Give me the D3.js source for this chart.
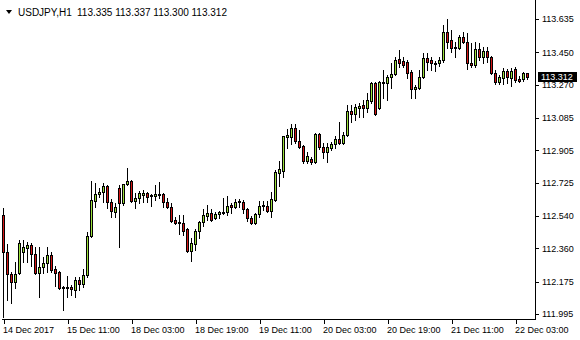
<!DOCTYPE html>
<html>
<head>
<meta charset="utf-8">
<script src="https://cdn.jsdelivr.net/npm/d3@7"></script>
<style>
  body { margin: 0; background: #fff; }
  svg { display: block; font-family: "Liberation Sans", Arial, sans-serif; }
</style>
</head>
<body>
<div id="chart"></div>
<script>
// USDJPY H1 bars (oldest first)
var opens = [112.545,112.340,112.217,112.173,112.223,112.340,112.362,112.379,112.329,112.223,
  112.256,112.279,112.323,112.245,112.229,112.145,112.140,112.145,112.128,112.184,
  112.162,112.212,112.429,112.623,112.662,112.673,112.707,112.618,112.562,112.696,
  112.612,112.718,112.734,112.623,112.640,112.657,112.668,112.657,112.651,112.657,
  112.662,112.618,112.590,112.518,112.506,112.501,112.468,112.345,112.384,112.456,
  112.506,112.540,112.556,112.529,112.551,112.556,112.562,112.601,112.590,112.618,
  112.618,112.579,112.529,112.501,112.551,112.595,112.595,112.568,112.629,112.779,
  112.790,112.979,112.979,113.029,112.957,112.929,112.846,112.857,112.840,112.996,
  112.923,112.896,112.918,112.940,112.968,112.946,112.990,113.124,113.107,113.140,
  113.157,113.140,113.179,113.279,113.140,113.279,113.279,113.312,113.329,113.413,
  113.401,113.396,113.340,113.246,113.251,113.312,113.418,113.407,113.390,113.390,
  113.407,113.563,113.518,113.474,113.474,113.535,113.507,113.390,113.379,113.468,
  113.424,113.457,113.424,113.335,113.285,113.307,113.346,113.307,113.357,113.301,
  113.301,113.335];
var highs = [112.584,112.384,112.229,112.284,112.406,112.406,112.395,112.390,112.368,112.368,
  112.312,112.368,112.340,112.262,112.234,112.151,112.206,112.156,112.201,112.201,
  112.245,112.451,112.734,112.723,112.696,112.723,112.712,112.634,112.612,112.712,
  112.718,112.807,112.740,112.668,112.679,112.684,112.673,112.662,112.712,112.729,
  112.668,112.640,112.612,112.534,112.545,112.545,112.473,112.418,112.468,112.512,
  112.579,112.601,112.579,112.562,112.568,112.640,112.651,112.612,112.634,112.634,
  112.629,112.584,112.540,112.556,112.623,112.623,112.623,112.673,112.796,112.846,
  112.985,113.024,113.051,113.051,113.018,112.935,112.896,112.868,113.001,113.001,
  112.946,112.946,112.951,112.985,113.062,113.007,113.157,113.157,113.162,113.168,
  113.185,113.224,113.285,113.285,113.290,113.351,113.324,113.390,113.424,113.463,
  113.424,113.407,113.351,113.268,113.351,113.446,113.446,113.424,113.401,113.424,
  113.602,113.635,113.574,113.507,113.546,113.563,113.557,113.502,113.507,113.502,
  113.479,113.479,113.429,113.351,113.324,113.363,113.357,113.363,113.368,113.318,
  113.340,113.337];
var lows = [111.978,112.073,112.056,112.140,112.217,112.284,112.284,112.262,112.217,112.090,
  112.223,112.229,112.229,112.151,112.134,112.017,112.090,112.101,112.090,112.128,
  112.145,112.201,112.423,112.590,112.646,112.618,112.584,112.534,112.534,112.368,
  112.601,112.712,112.618,112.584,112.612,112.618,112.618,112.595,112.629,112.640,
  112.590,112.584,112.506,112.495,112.440,112.434,112.340,112.290,112.351,112.418,
  112.484,112.518,112.512,112.523,112.529,112.551,112.545,112.556,112.584,112.590,
  112.556,112.512,112.495,112.495,112.534,112.573,112.562,112.534,112.623,112.707,
  112.757,112.918,112.940,112.946,112.918,112.834,112.834,112.829,112.834,112.912,
  112.862,112.840,112.907,112.918,112.940,112.940,112.985,113.062,113.074,113.090,
  113.090,113.118,113.168,113.101,113.135,113.196,113.185,113.251,113.324,113.368,
  113.368,113.307,113.196,113.196,113.246,113.307,113.351,113.351,113.346,113.374,
  113.396,113.474,113.452,113.424,113.468,113.502,113.357,113.368,113.368,113.407,
  113.390,113.396,113.329,113.274,113.274,113.274,113.279,113.263,113.285,113.285,
  113.290,113.300];
var closes = [112.340,112.217,112.173,112.217,112.390,112.368,112.379,112.329,112.223,112.256,
  112.279,112.323,112.240,112.223,112.140,112.140,112.145,112.134,112.184,112.162,
  112.212,112.429,112.629,112.662,112.673,112.707,112.618,112.568,112.590,112.612,
  112.718,112.734,112.623,112.640,112.668,112.668,112.646,112.651,112.662,112.662,
  112.618,112.590,112.512,112.501,112.501,112.456,112.345,112.390,112.456,112.506,
  112.545,112.556,112.518,112.551,112.562,112.562,112.595,112.590,112.618,112.623,
  112.579,112.529,112.501,112.551,112.595,112.601,112.568,112.634,112.784,112.801,
  112.985,112.990,113.029,112.957,112.923,112.846,112.873,112.840,112.996,112.923,
  112.896,112.923,112.940,112.968,112.946,112.990,113.124,113.107,113.146,113.151,
  113.140,113.185,113.279,113.107,113.285,113.285,113.312,113.329,113.407,113.390,
  113.379,113.335,113.246,113.257,113.312,113.418,113.396,113.390,113.385,113.407,
  113.563,113.507,113.474,113.479,113.535,113.507,113.390,113.379,113.468,113.424,
  113.457,113.424,113.335,113.285,113.312,113.346,113.312,113.346,113.296,113.290,
  113.335,113.312];

// time axis labels and the bar each one sits on (every 16 bars)
var timeLabels = ["14 Dec 2017","15 Dec 11:00","18 Dec 03:00","18 Dec 19:00","19 Dec 11:00",
  "20 Dec 03:00","20 Dec 19:00","21 Dec 11:00","22 Dec 03:00"];
var timeLabelBars = [0,16,32,48,64,80,96,112,128];

// price scale labels
var priceTicks = [113.635,113.450,113.270,113.085,112.905,112.725,112.540,112.360,112.175,111.995];

var symbolName = "USDJPY,H1";

var svgWidth = 580;
var svgHeight = 340;
var plotRight = 535;
var plotBottom = 319;

var svg = d3.select("#chart")
  .append("svg")
  .attr("width", svgWidth)
  .attr("height", svgHeight)
  .attr("shape-rendering", "crispEdges");

var xScale = d3.scaleLinear()
  .domain([0, opens.length - 1])
  .range([3, 527]);

var yScale = d3.scaleLinear()
  .domain([d3.min(priceTicks), d3.max(priceTicks)])
  .range([314, 19]);

var bars = opens.map(function(o, i) {
  return {i: i, o: o, h: highs[i], l: lows[i], c: closes[i]};
});

function px(v) { return Math.round(yScale(v)); }

// frame: right and bottom
svg.append("line")
  .attr("x1", plotRight + 0.5).attr("x2", plotRight + 0.5)
  .attr("y1", 0).attr("y2", plotBottom + 1)
  .attr("stroke", "#000");
svg.append("line")
  .attr("x1", 2).attr("x2", plotRight + 1)
  .attr("y1", plotBottom + 0.5).attr("y2", plotBottom + 0.5)
  .attr("stroke", "#000");

// candles
var candles = svg.append("g").selectAll("g")
  .data(bars)
  .enter()
  .append("g");

candles.append("line")
  .attr("x1", d => Math.round(xScale(d.i)) + 0.5)
  .attr("x2", d => Math.round(xScale(d.i)) + 0.5)
  .attr("y1", d => px(d.h))
  .attr("y2", d => px(d.l) + 1)
  .attr("stroke", "#000");

candles.append("rect")
  .attr("x", d => Math.round(xScale(d.i)) - 0.5)
  .attr("y", d => px(Math.max(d.o, d.c)) + 0.5)
  .attr("width", 2)
  .attr("height", d => px(Math.min(d.o, d.c)) - px(Math.max(d.o, d.c)))
  .attr("fill", d => d.c >= d.o ? "#9be03a" : "#d41515")
  .attr("stroke", "#000");

// price axis on the right
var rightAxis = d3.axisRight(yScale)
  .tickValues(priceTicks)
  .tickSize(3)
  .tickPadding(3)
  .tickFormat(d3.format(".3f"));

var ra = svg.append("g")
  .attr("transform", `translate(${plotRight + 1}, 0)`)
  .call(rightAxis);
ra.select(".domain").remove();
ra.selectAll("text").attr("font-size", "9px").attr("fill", "#000")
  .attr("font-family", "Liberation Sans, Arial, sans-serif");
ra.selectAll("line").attr("stroke", "#000");

// time axis at the bottom
var bottomAxis = d3.axisBottom(xScale)
  .tickValues(timeLabelBars)
  .tickSize(4)
  .tickPadding(3)
  .tickFormat(function(d, i) { return timeLabels[i]; });

var ba = svg.append("g")
  .attr("transform", `translate(0.5, ${plotBottom + 1})`)
  .call(bottomAxis);
ba.select(".domain").remove();
ba.selectAll("text")
  .attr("text-anchor", "start")
  .attr("x", -1)
  .attr("font-size", "9px")
  .attr("fill", "#000")
  .attr("font-family", "Liberation Sans, Arial, sans-serif");
ba.selectAll("line").attr("stroke", "#000");

// current price marker
var last = bars[bars.length - 1];
var lastY = px(last.c);
svg.append("rect")
  .attr("x", 538).attr("y", lastY - 5)
  .attr("width", 39).attr("height", 10)
  .attr("fill", "#000");
svg.append("text")
  .attr("x", 541).attr("y", lastY)
  .attr("dy", "0.35em")
  .attr("font-size", "9px")
  .attr("fill", "#fff")
  .text(d3.format(".3f")(last.c));

// header line
svg.append("path")
  .attr("d", "M6,10 L12,10 L9,14 Z")
  .attr("fill", "#000")
  .attr("shape-rendering", "auto");
svg.append("text")
  .attr("x", 18).attr("y", 16)
  .attr("font-size", "10px")
  .attr("fill", "#000")
  .text(symbolName);
svg.append("text")
  .attr("x", 77).attr("y", 16)
  .attr("font-size", "10px")
  .attr("fill", "#000")
  .text([last.o, last.h, last.l, last.c].map(d3.format(".3f")).join(" "));
</script>
</body>
</html>
